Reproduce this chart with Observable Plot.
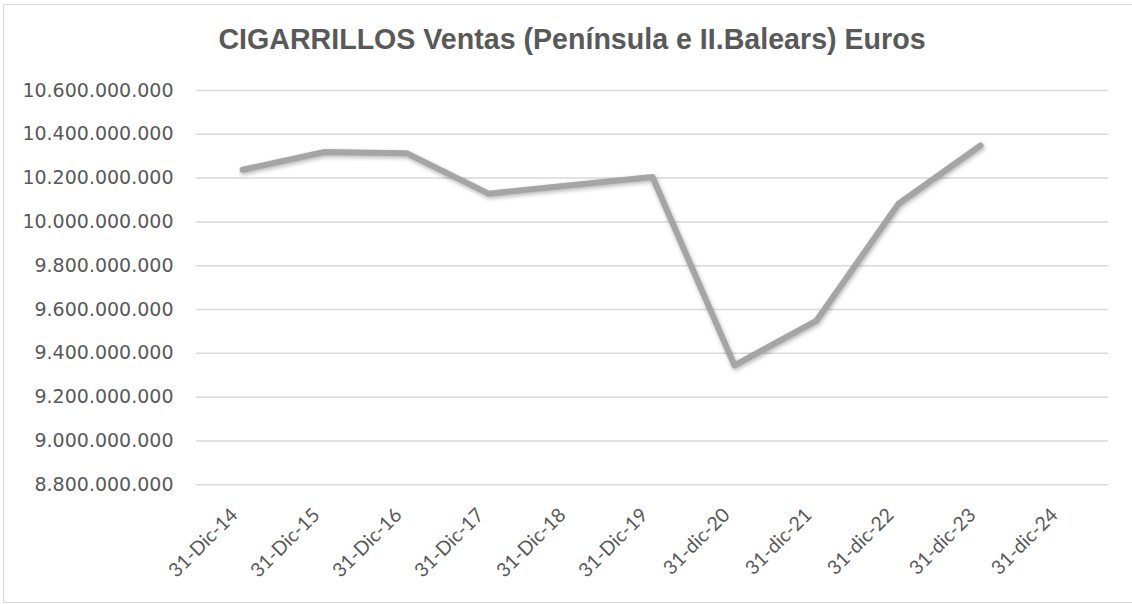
<!DOCTYPE html>
<html>
<head>
<meta charset="utf-8">
<script src="https://cdn.jsdelivr.net/npm/d3@7"></script>
<script src="https://cdn.jsdelivr.net/npm/@observablehq/plot@0.6"></script>
<style>
  html, body { margin: 0; padding: 0; background: #fff; width: 1132px; height: 604px; overflow: hidden; }
  #frame { position: absolute; left: 3px; top: 4px; width: 1140px; height: 599px; border: 1.5px solid #d9d9d9; box-sizing: border-box; }
  #title { position: absolute; left: 6px; top: 23px; width: 1132px; text-align: center; font-family: "Liberation Sans", Arial, sans-serif; font-weight: bold; font-size: 28.6px; line-height: 32px; color: #595959; white-space: nowrap; }
  #chart { position: absolute; left: 0; top: 80px; }
</style>
</head>
<body>
<div id="frame"></div>
<div id="title">CIGARRILLOS Ventas (Península e II.Balears) Euros</div>
<div id="chart"></div>
<script>
const categories = ["31-Dic-14","31-Dic-15","31-Dic-16","31-Dic-17","31-Dic-18","31-Dic-19","31-dic-20","31-dic-21","31-dic-22","31-dic-23","31-dic-24"];
const ventas = [10238000000, 10319000000, 10314000000, 10129000000, 10167000000, 10205000000, 9345000000, 9550000000, 10083000000, 10349000000, null];
const yTicks = [8800000000, 9000000000, 9200000000, 9400000000, 9600000000, 9800000000, 10000000000, 10200000000, 10400000000, 10600000000];

const data = categories.map((c, i) => ({cat: c, v: ventas[i]}));
const fmt = d3.formatLocale({decimal: ",", thousands: ".", grouping: [3], currency: ["", "€"]}).format(",d");

const chart = Plot.plot({
  width: 1132,
  height: 524,
  marginTop: 10,
  marginBottom: 119.7,
  marginLeft: 196,
  marginRight: 24,
  style: {background: "transparent", overflow: "visible"},
  x: {type: "point", domain: categories, padding: 0.5},
  y: {domain: [8800000000, 10600000000]},
  marks: [
    Plot.ruleY(yTicks, {stroke: "#d9d9d9", strokeWidth: 1.5}),
    Plot.axisY({ticks: yTicks, tickFormat: fmt, tickSize: 0, tickPadding: 23, fontSize: 19, fontFamily: "DejaVu Sans", fill: "#595959", label: null}),
    Plot.axisX({tickSize: 0, tickPadding: 27, dx: -8, tickRotate: -45, fontSize: 19.5, fontFamily: "Lato", fill: "#595959", label: null}),
    Plot.lineY(data, {x: "cat", y: "v", stroke: "#a5a5a5", strokeWidth: 6, strokeLinejoin: "round", strokeLinecap: "round"})
  ]
});
document.getElementById("chart").appendChild(chart);
chart.querySelectorAll('g[aria-label="line"] path').forEach(p => {
  p.style.filter = "drop-shadow(1.5px 2.5px 2px rgba(0,0,0,0.28))";
});
</script>
</body>
</html>
